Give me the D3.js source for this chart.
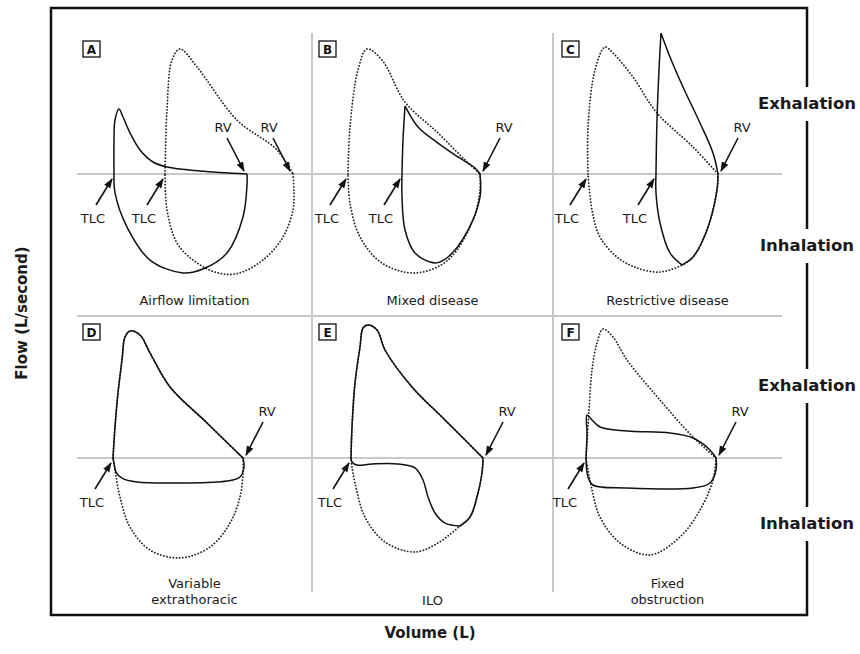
<!DOCTYPE html>
<html>
<head>
<meta charset="utf-8">
<script src="https://cdn.jsdelivr.net/npm/d3@7"></script>
<style>
  body { margin: 0; background: #fff; }
  svg { display: block; font-family: "DejaVu Sans", Verdana, sans-serif; }
</style>
</head>
<body>
<svg id="chart" width="860" height="654"></svg>
<script>
// [volume (L), flow (L/s)], third value 1 = sharp corner
const panelIds = ["A", "B", "C", "D", "E", "F"];
const panelCaptions = [["Airflow limitation"], ["Mixed disease"], ["Restrictive disease"],
  ["Variable", "extrathoracic"], ["ILO"], ["Fixed", "obstruction"]];
const sideLabels = ["Exhalation", "Inhalation"];

// A - airflow limitation
const expNormalA = [[4.56,0],[4.64,5.33],[4.84,9.5],[5.16,10.42],[5.84,8.92],[7.44,4.5],[9.04,2.0],[9.68,0]];
const inspNormalA = [[9.68,0],[9.72,-1.5],[9.68,-3.0],[9.28,-5.25],[8.48,-7.17],[7.44,-8.3],[6.6,-8.2],[5.7,-7.2],[5.04,-5.75],[4.64,-3.0],[4.56,0]];
const expPatientA = [[2.52,0],[2.52,2.6],[2.56,4.5],[2.72,5.42],[2.88,4.75],[3.16,3.42],[3.56,2.0],[4.08,1.0],[4.64,0.58],[5.96,0.25],[7.84,0]];
const inspPatientA = [[7.84,0],[7.84,-0.92],[7.68,-3.58],[7.04,-6.58],[6.1,-7.9],[5.28,-8.25],[3.96,-7.17],[3.04,-4.42],[2.56,-1.58],[2.52,0]];

// B - mixed disease
const expNormalB = [[1.44,0],[1.52,3.92],[1.84,8.67],[2.2,10.42],[2.8,9.5],[3.72,6.0],[5.04,3.42],[6.12,1.17],[6.72,0]];
const inspNormalB = [[6.72,0],[6.72,-1.33],[6.44,-3.83],[5.44,-7.17],[4.12,-8.25],[2.8,-7.42],[1.92,-5.25],[1.52,-2.42],[1.44,0]];
const expPatientB = [[3.6,0],[3.64,2.83],[3.72,5.67,1],[4.24,3.92],[5.04,2.58],[5.84,1.42],[6.52,0.5],[6.72,0]];
const inspPatientB = [[6.72,0],[6.72,-1.92],[6.24,-4.67],[5.44,-6.92],[4.92,-7.42],[4.12,-6.58],[3.72,-4.67],[3.6,-1.92],[3.6,0]];

// C - restrictive disease
const expNormalC = [[1.4,0],[1.4,3.92],[1.68,8.67],[2.08,10.58],[2.4,10.08],[3.2,8.08],[4.16,5.08],[5.6,2.25],[6.6,0]];
const inspNormalC = [[6.6,0],[6.56,-1.33],[6.16,-4.67],[5.6,-6.92],[5.16,-7.58],[4.28,-8.17],[3.36,-7.83],[2.56,-6.92],[1.88,-5.25],[1.56,-3.0],[1.4,0]];
const expPatientC = [[4.12,0],[4.16,4.5],[4.24,8.67],[4.32,11.75,1],[4.68,9.75],[5.2,7.25],[5.88,4.25],[6.4,1.75],[6.6,0]];
const inspPatientC = [[6.6,0],[6.56,-1.33],[6.16,-4.67],[5.6,-6.92],[5.16,-7.58,1],[4.68,-6.58],[4.28,-4.08],[4.12,-1.58],[4.12,0]];

// D - variable extrathoracic
const expNormalD = [[2.48,0],[2.56,2.58],[2.68,5.42],[2.84,8.17],[2.96,10.08],[3.16,10.58],[3.56,10.25],[3.96,8.75],[4.76,5.92],[6.24,2.92],[7.68,0]];
const inspNormalD = [[7.68,0],[7.68,-1.25],[7.56,-3.25],[7.16,-5.42],[6.36,-7.42],[5.16,-8.33],[3.96,-7.67],[3.16,-5.75],[2.76,-3.25],[2.56,-1.0],[2.48,0]];
const expPatientD = expNormalD;
const inspPatientD = [[7.68,0],[7.72,-0.75],[7.56,-1.58],[7.04,-1.92],[5.28,-2.08],[3.44,-2.0],[2.84,-1.67],[2.6,-1.17],[2.52,-0.42],[2.48,0]];

// E - ILO
const expNormalE = [[1.56,0],[1.6,2.58],[1.72,6.25],[1.92,9.25],[2.04,10.83],[2.24,11.08],[2.6,10.67],[2.92,9.0],[4.0,5.92],[5.32,3.17],[6.84,0]];
const inspNormalE = [[6.84,0],[6.8,-1.25],[6.6,-3.25],[6.32,-4.92],[5.92,-5.67],[5.04,-7.08],[4.12,-7.83],[2.92,-7.0],[2.12,-4.92],[1.72,-2.08],[1.6,-0.75],[1.56,0]];
const expPatientE = expNormalE;
const inspPatientE = [[6.84,0],[6.8,-1.25],[6.6,-3.25],[6.32,-4.92],[5.92,-5.67,1],[5.32,-5.42],[4.92,-4.58],[4.64,-3.25],[4.44,-1.83],[4.12,-0.83],[3.44,-0.5],[2.4,-0.5],[1.8,-0.58],[1.6,-0.33],[1.56,0]];

// F - fixed obstruction
const expNormalF = [[1.32,0],[1.44,4.0],[1.56,7.33],[1.76,9.58],[2.0,10.75],[2.4,10.08],[2.96,8.17],[4.28,4.83],[5.6,1.75],[6.52,0]];
const inspNormalF = [[6.52,0],[6.4,-1.83],[5.88,-4.33],[5.08,-6.58],[3.88,-8.08],[2.68,-7.08],[1.88,-4.92],[1.56,-2.67],[1.32,0]];
const expPatientF = [[1.32,0],[1.36,2.0],[1.36,3.58],[1.56,3.17],[1.88,2.58],[2.96,2.25],[4.68,2.08],[5.6,1.67],[6.28,0.67],[6.52,0]];
const inspPatientF = [[6.52,0],[6.52,-1.0],[6.28,-2.08],[5.6,-2.5],[2.96,-2.5],[1.6,-2.25],[1.4,-1.58],[1.32,0]];

// [label, volume, flow, side]
const annotationsA = [["TLC",2.52,0,"tlc"],["TLC",4.56,0,"tlc"],["RV",7.84,0,"left"],["RV",9.68,0,"left"]];
const annotationsB = [["TLC",1.44,0,"tlc"],["TLC",3.6,0,"tlc"],["RV",6.72,0,"right"]];
const annotationsC = [["TLC",1.4,0,"tlc"],["TLC",4.12,0,"tlc"],["RV",6.6,0,"right"]];
const annotationsD = [["TLC",2.48,0,"tlc"],["RV",7.68,0,"right"]];
const annotationsE = [["TLC",1.56,0,"tlc"],["RV",6.84,0,"right"]];
const annotationsF = [["TLC",1.32,0,"tlc"],["RV",6.52,0,"right"]];

const panels = [
  { normal: [expNormalA, inspNormalA], patient: [expPatientA, inspPatientA], notes: annotationsA },
  { normal: [expNormalB, inspNormalB], patient: [expPatientB, inspPatientB], notes: annotationsB },
  { normal: [expNormalC, inspNormalC], patient: [expPatientC, inspPatientC], notes: annotationsC },
  { normal: [expNormalD, inspNormalD], patient: [expPatientD, inspPatientD], notes: annotationsD },
  { normal: [expNormalE, inspNormalE], patient: [expPatientE, inspPatientE], notes: annotationsE },
  { normal: [expNormalF, inspNormalF], patient: [expPatientF, inspPatientF], notes: annotationsF }
];

const svg = d3.select("#chart");
const frame = { left: 51, top: 8, right: 807, bottom: 615 };
const colLeft = [51, 312, 553];
const colBounds = [[77, 312], [312, 553], [553, 782]];
const rowZero = [174, 458];
const gridColor = "#c8c8c8";

const defs = svg.append("defs");
defs.append("marker")
  .attr("id", "arrow")
  .attr("markerUnits", "userSpaceOnUse")
  .attr("viewBox", "0 -5 10 10")
  .attr("refX", 9).attr("refY", 0)
  .attr("markerWidth", 10).attr("markerHeight", 10)
  .attr("orient", "auto")
  .append("path")
  .attr("d", "M0,-3.6L10,0L0,3.6Z")
  .attr("fill", "#111");

// grid
const grid = svg.append("g").attr("stroke", gridColor).attr("stroke-width", 2);
[rowZero[0], 316, rowZero[1]].forEach((y) => {
  grid.append("line").attr("x1", 77).attr("x2", 782).attr("y1", y).attr("y2", y);
});
[312, 553].forEach((x) => {
  grid.append("line").attr("x1", x).attr("x2", x).attr("y1", 33).attr("y2", 592);
});

// outer frame
svg.append("rect")
  .attr("x", frame.left).attr("y", frame.top)
  .attr("width", frame.right - frame.left).attr("height", frame.bottom - frame.top)
  .attr("fill", "none").attr("stroke", "#111").attr("stroke-width", 2.5);

const splitAtCorners = (points) => {
  const segs = [[]];
  points.forEach((p, i) => {
    segs[segs.length - 1].push(p);
    if (p[2] && i > 0 && i < points.length - 1) segs.push([p]);
  });
  return segs;
};

panels.forEach((panel, i) => {
  const col = i % 3;
  const row = Math.floor(i / 3);
  const x = d3.scaleLinear().domain([0, 10]).range([colLeft[col], colLeft[col] + 250]);
  const y = d3.scaleLinear().domain([0, 10]).range([rowZero[row], rowZero[row] - 120]);
  const line = d3.line()
    .x((d) => x(d[0]))
    .y((d) => y(d[1]))
    .curve(d3.curveCatmullRom.alpha(0.5));
  const pathFor = (limbs) => limbs.map((limb) => splitAtCorners(limb).map((s) => line(s)).join("")).join("");

  const g = svg.append("g").attr("class", `panel-${panelIds[i]}`);

  g.append("path")
    .attr("d", pathFor(panel.normal))
    .attr("fill", "none")
    .attr("stroke", "#222")
    .attr("stroke-width", 1.8)
    .attr("stroke-linecap", "round")
    .attr("stroke-dasharray", "0.1,3.1");

  g.append("path")
    .attr("d", pathFor(panel.patient))
    .attr("fill", "none")
    .attr("stroke", "#111")
    .attr("stroke-width", 1.5)
    .attr("stroke-linejoin", "round");

  // annotations
  panel.notes.forEach(([label, vol, flow, side]) => {
    const px = x(vol);
    const py = y(flow);
    let tip, tail, text;
    if (side === "tlc") {
      tip = [px - 2, py + 5]; tail = [px - 18, py + 31]; text = [px - 21, py + 49];
    } else {
      const s = side === "right" ? 1 : -1;
      tip = [px + 3 * s, py - 3]; tail = [px + 20 * s, py - 36]; text = [px + 24 * s, py - 42];
    }
    g.append("line")
      .attr("x1", tail[0]).attr("y1", tail[1])
      .attr("x2", tip[0]).attr("y2", tip[1])
      .attr("stroke", "#111").attr("stroke-width", 1.6)
      .attr("marker-end", "url(#arrow)");
    g.append("text")
      .attr("x", text[0]).attr("y", text[1])
      .attr("text-anchor", "middle")
      .attr("font-size", 13)
      .attr("fill", "#1a1a1a")
      .text(label);
  });

  // panel letter
  const bx = [83, 319, 562][col];
  const by = [41, 324][row];
  g.append("rect")
    .attr("x", bx).attr("y", by).attr("width", 17).attr("height", 16)
    .attr("fill", "#fff").attr("stroke", "#111").attr("stroke-width", 1.3);
  g.append("text")
    .attr("x", bx + 8.5).attr("y", by + 12.5)
    .attr("text-anchor", "middle")
    .attr("font-size", 12).attr("font-weight", "bold")
    .attr("fill", "#111")
    .text(panelIds[i]);

  // caption
  const cx = (colBounds[col][0] + colBounds[col][1]) / 2;
  const lines = panelCaptions[i];
  const baselines = row === 0 ? [305] : (lines.length === 2 ? [588, 604] : [605]);
  lines.forEach((t, k) => {
    g.append("text")
      .attr("x", cx).attr("y", baselines[k])
      .attr("text-anchor", "middle")
      .attr("font-size", 13)
      .attr("fill", "#1a1a1a")
      .text(t);
  });
});

// side labels breaking the right border
const sideY = [[103, 245], [385, 523]];
sideY.forEach((pair) => {
  pair.forEach((cy, k) => {
    svg.append("rect")
      .attr("x", frame.right - 4).attr("y", cy - 16)
      .attr("width", 8).attr("height", 34)
      .attr("fill", "#fff");
    svg.append("text")
      .attr("x", frame.right).attr("y", cy + 6)
      .attr("text-anchor", "middle")
      .attr("font-size", 16.5).attr("font-weight", "bold")
      .attr("fill", "#1a1a1a")
      .text(sideLabels[k]);
  });
});

// axis titles
svg.append("text")
  .attr("transform", "translate(27,313) rotate(-90)")
  .attr("text-anchor", "middle")
  .attr("font-size", 15).attr("font-weight", "bold")
  .attr("fill", "#1a1a1a")
  .text("Flow (L/second)");

svg.append("text")
  .attr("x", 430).attr("y", 638)
  .attr("text-anchor", "middle")
  .attr("font-size", 15).attr("font-weight", "bold")
  .attr("fill", "#1a1a1a")
  .text("Volume (L)");
</script>
</body>
</html>
